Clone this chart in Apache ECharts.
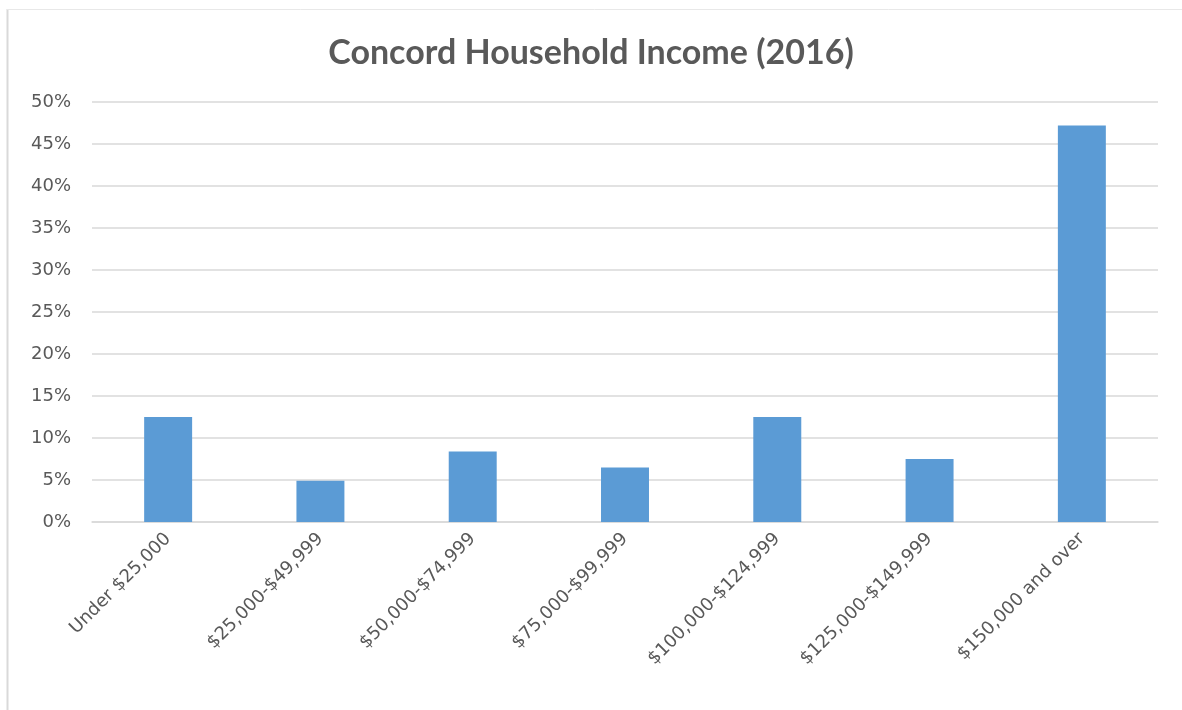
<!DOCTYPE html>
<html>
<head>
<meta charset="utf-8">
<style>
  html, body { margin: 0; padding: 0; background: #ffffff; }
  #chart { width: 1182px; height: 710px; }
</style>
<script src="https://cdn.jsdelivr.net/npm/echarts@6/dist/echarts.min.js"></script>
</head>
<body>
<div id="chart"></div>
<script>
// Income brackets and share of households (percent)
const categories = [
  'Under $25,000',
  '$25,000-$49,999',
  '$50,000-$74,999',
  '$75,000-$99,999',
  '$100,000-$124,999',
  '$125,000-$149,999',
  '$150,000 and over'
];
const shares = [12.5, 4.9, 8.4, 6.5, 12.5, 7.5, 47.2];
const yTicks = [0, 5, 10, 15, 20, 25, 30, 35, 40, 45, 50];

const textColor = '#595959';
const titleFont = 'Lato, "Open Sans", sans-serif';
const labelFont = '"DejaVu Sans", "Open Sans", sans-serif';

const chart = echarts.init(document.getElementById('chart'));
chart.setOption({
  animation: false,
  backgroundColor: '#ffffff',
  title: {
    text: 'Concord Household Income (2016)',
    left: 'center',
    top: 31,
    textStyle: {
      color: textColor,
      fontFamily: titleFont,
      fontWeight: 'bold',
      fontSize: 34
    }
  },
  graphic: [
    // chart frame edges
    { type: 'line', shape: { x1: 7.5, y1: 9, x2: 7.5, y2: 710 }, style: { stroke: '#d9d9d9', lineWidth: 2 } },
    { type: 'line', shape: { x1: 7, y1: 9.5, x2: 1182, y2: 9.5 }, style: { stroke: '#e8e8e8', lineWidth: 1 } }
  ],
  grid: { left: 92, right: 24, top: 102, bottom: 188, containLabel: false },
  xAxis: {
    type: 'category',
    data: categories,
    axisLine: { show: true, lineStyle: { color: '#d9d9d9', width: 1.5 } },
    axisTick: { show: false },
    axisLabel: {
      rotate: 45,
      interval: 0,
      margin: 14,
      color: textColor,
      fontFamily: labelFont,
      fontSize: 18
    }
  },
  yAxis: {
    type: 'value',
    min: yTicks[0],
    max: yTicks[yTicks.length - 1],
    interval: 5,
    axisLine: { show: false },
    axisTick: { show: false },
    splitLine: { lineStyle: { color: '#d9d9d9', width: 1.5 } },
    axisLabel: {
      margin: 21,
      color: textColor,
      fontFamily: labelFont,
      fontSize: 18,
      formatter: v => v + '%'
    }
  },
  series: [{
    type: 'bar',
    data: shares,
    barWidth: '31.5%',
    itemStyle: { color: '#5b9bd5' }
  }]
});
</script>
</body>
</html>
